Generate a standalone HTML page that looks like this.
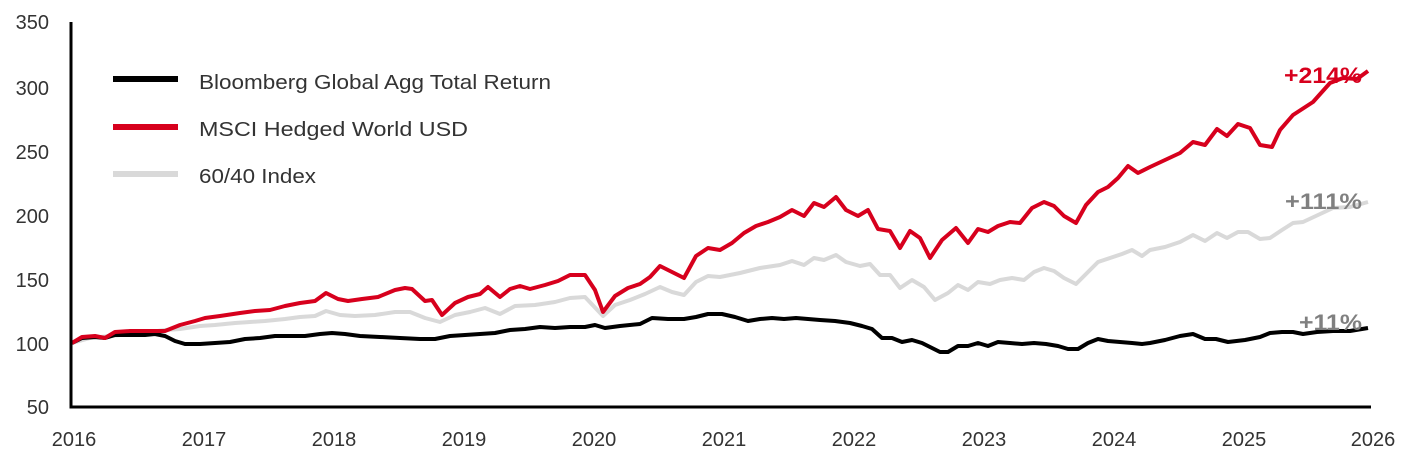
<!DOCTYPE html>
<html><head><meta charset="utf-8"><style>
html,body{margin:0;padding:0;background:#fff;}
svg{display:block;font-family:"Liberation Sans",sans-serif;}
</style></head><body>
<svg width="1421" height="459" viewBox="0 0 1421 459">
<g font-size="20" fill="#333" text-anchor="end">
<text x="49" y="29">350</text><text x="49" y="95">300</text><text x="49" y="159">250</text>
<text x="49" y="223">200</text><text x="49" y="287">150</text><text x="49" y="351">100</text><text x="49" y="414">50</text>
</g>
<g font-size="20" fill="#333" text-anchor="middle">
<text x="74" y="446">2016</text><text x="204" y="446">2017</text><text x="334" y="446">2018</text>
<text x="464" y="446">2019</text><text x="594" y="446">2020</text><text x="724" y="446">2021</text>
<text x="854" y="446">2022</text><text x="984" y="446">2023</text><text x="1114" y="446">2024</text>
<text x="1244" y="446">2025</text><text x="1373" y="446">2026</text>
</g>
<g fill="none" stroke-width="4" stroke-linejoin="round">
<polyline stroke="#d9d9d9" points="72,343 90,338 110,336 130,334 150,332 165,330 180,329 200,326 215,325 235,323 250,322 265,321 285,319 300,317 315,316 326,311 340,315 355,316 375,315 395,312 410,312 425,318 440,322 455,315 470,312 485,308 500,314 515,306 535,305 555,302 570,298 585,297 603,316 615,305 630,300 645,294 660,287 672,292 684,295 696,282 708,276 720,277 740,273 760,268 780,265 792,261 804,265 814,258 824,260 836,255 846,262 860,266 870,264 880,275 890,275 900,288 912,280 924,287 935,300 948,293 958,285 968,290 978,282 990,284 1000,280 1012,278 1024,280 1034,272 1044,268 1054,271 1064,278 1076,284 1088,272 1098,262 1110,258 1122,254 1132,250 1142,256 1150,250 1165,247 1180,242 1193,235 1205,241 1217,233 1227,238 1238,232 1248,232 1260,239 1270,238 1282,230 1293,223 1303,222 1318,215 1333,208 1350,207 1368,202"/>
<polyline stroke="#000" points="72,343 82,338 95,337 105,338 115,335 130,335 145,335 155,334 165,336 175,341 185,344 200,344 215,343 230,342 245,339 260,338 275,336 290,336 305,336 320,334 332,333 345,334 360,336 380,337 400,338 420,339 435,339 450,336 465,335 480,334 495,333 510,330 525,329 540,327 555,328 570,327 585,327 595,325 605,328 620,326 640,324 652,318 668,319 684,319 696,317 708,314 722,314 735,317 748,321 760,319 772,318 784,319 796,318 808,319 820,320 835,321 850,323 862,326 872,329 882,338 892,338 902,342 912,340 922,343 932,348 940,352 948,352 958,346 968,346 978,343 988,346 998,342 1010,343 1022,344 1034,343 1046,344 1058,346 1068,349 1078,349 1088,343 1098,339 1108,341 1120,342 1132,343 1142,344 1150,343 1165,340 1180,336 1193,334 1205,339 1216,339 1228,342 1245,340 1260,337 1270,333 1282,332 1293,332 1303,334 1317,332 1333,331 1350,331 1368,328"/>
<polyline stroke="#d7001d" points="72,343 82,337 95,336 105,338 115,332 130,331 150,331 165,331 180,325 195,321 205,318 220,316 240,313 255,311 270,310 285,306 300,303 315,301 326,293 338,299 348,301 362,299 378,297 395,290 405,288 412,289 425,301 432,300 442,315 455,303 468,297 480,294 488,287 500,297 510,289 520,286 530,289 545,285 558,281 570,275 585,275 595,290 603,312 615,296 628,288 640,284 650,277 660,266 672,272 684,278 696,256 708,248 720,250 732,243 744,233 756,226 768,222 780,217 792,210 804,216 814,203 824,207 836,197 846,210 858,216 868,210 878,229 890,231 900,248 910,231 920,238 930,258 942,240 956,228 968,243 978,229 988,232 998,226 1010,222 1020,223 1032,208 1044,202 1054,206 1064,216 1076,223 1086,205 1098,192 1108,187 1118,178 1128,166 1138,173 1150,167 1165,160 1180,153 1193,142 1205,145 1217,129 1227,136 1238,124 1250,128 1260,145 1272,147 1280,130 1293,115 1313,102 1330,83 1343,78 1357,79 1368,71"/>
</g>
<path d="M71,22 V407 H1371" fill="none" stroke="#000" stroke-width="3"/>
<g stroke-width="6">
<line x1="113" y1="79" x2="178" y2="79" stroke="#000"/>
<line x1="113" y1="127" x2="178" y2="127" stroke="#d7001d"/>
<line x1="113" y1="174" x2="178" y2="174" stroke="#d9d9d9"/>
</g>
<g font-size="20" fill="#333">
<text x="199" y="89" textLength="352" lengthAdjust="spacingAndGlyphs">Bloomberg Global Agg Total Return</text>
<text x="199" y="136" textLength="269" lengthAdjust="spacingAndGlyphs">MSCI Hedged World USD</text>
<text x="199" y="183" textLength="117" lengthAdjust="spacingAndGlyphs">60/40 Index</text>
</g>
<g font-size="22" font-weight="bold">
<text x="1284" y="83" fill="#d7001d" textLength="78" lengthAdjust="spacingAndGlyphs">+214%</text>
<text x="1285" y="209" fill="#808080" textLength="77" lengthAdjust="spacingAndGlyphs">+111%</text>
<text x="1299" y="330" fill="#808080" textLength="63" lengthAdjust="spacingAndGlyphs">+11%</text>
</g>
</svg>
</body></html>
